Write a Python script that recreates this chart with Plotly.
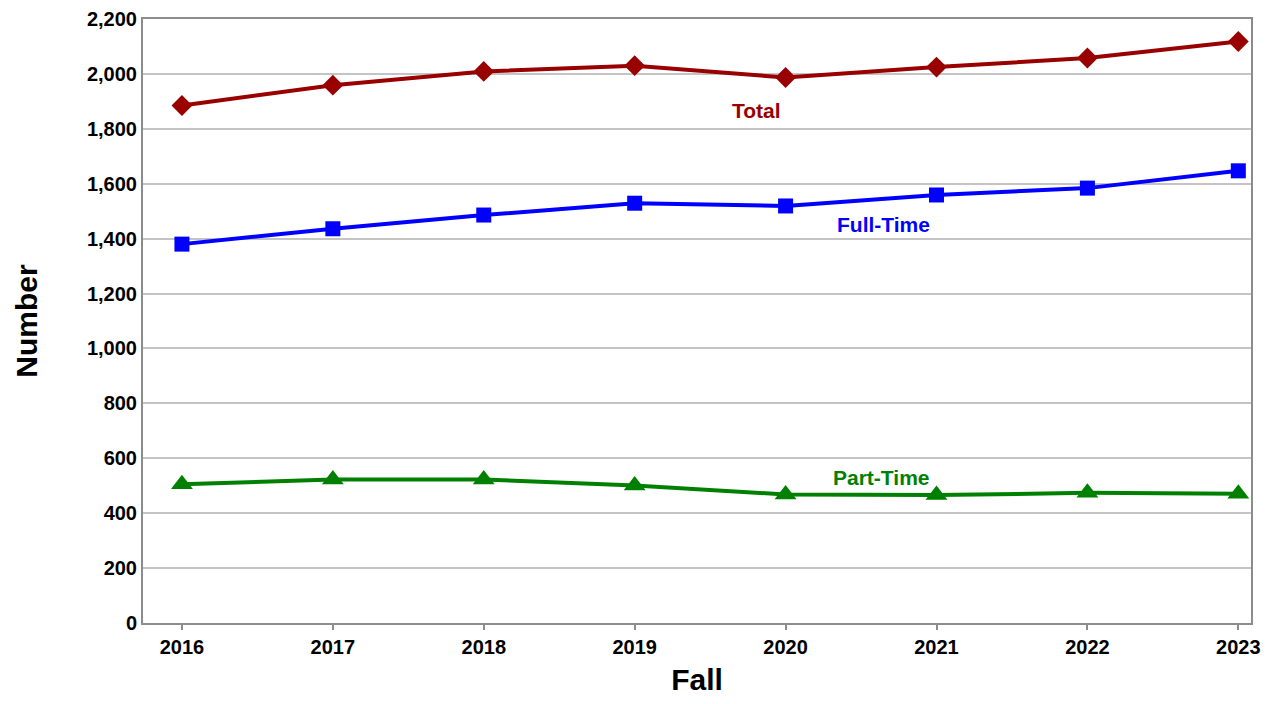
import plotly.graph_objects as go

years = ["2016", "2017", "2018", "2019", "2020", "2021", "2022", "2023"]
total = [1885, 1959, 2009, 2030, 1987, 2025, 2058, 2118]
full_time = [1380, 1436, 1486, 1529, 1519, 1559, 1584, 1647]
part_time = [505, 523, 523, 501, 468, 466, 474, 471]

FONT = "Liberation Sans, Arial, sans-serif"

fig = go.Figure()

series = [
    ("Total", total, "#990000", "diamond", 16),
    ("Full-Time", full_time, "#0000ff", "square", 15),
    ("Part-Time", part_time, "#008000", "triangle-up", 19),
]
for name, vals, color, symbol, size in series:
    fig.add_trace(go.Scatter(
        x=years, y=vals, name=name, mode="lines+markers",
        line=dict(color=color, width=4),
        marker=dict(symbol=symbol, size=size, color=color),
        showlegend=False,
    ))

# series labels next to the lines
labels = [
    ("Total", 3.81, 1865, "#990000"),
    ("Full-Time", 4.65, 1450, "#0000ff"),
    ("Part-Time", 4.63, 531, "#008000"),
]
for text, xi, yv, color in labels:
    fig.add_annotation(x=xi, y=yv, text=text, showarrow=False,
                       font=dict(family=FONT, size=21, color=color, weight="bold"))

# page body has an 8px margin, so the figure is sized to fit inside it
fig.update_layout(
    width=1262, height=688,
    paper_bgcolor="white", plot_bgcolor="white",
    margin=dict(l=135, r=19, t=11, b=73),
    font=dict(family=FONT, color="black"),
)
fig.update_xaxes(
    type="category", range=[-0.258, 7.084], automargin=False,
    showline=True, linecolor="#8c8c8c", linewidth=2, mirror=True,
    showgrid=False, ticks="outside", tickcolor="#8c8c8c", ticklen=5, tickwidth=1.5,
    tickfont=dict(size=20, weight="bold"),
    title=dict(text="Fall", font=dict(size=30, weight="bold"), standoff=16),
)
fig.update_yaxes(
    range=[0, 2200], dtick=200, tickformat=",", automargin=False,
    showline=True, linecolor="#8c8c8c", linewidth=2, mirror=True,
    showgrid=True, gridcolor="#c4c4c4", gridwidth=2, zeroline=False,
    tickfont=dict(size=20, weight="bold"),
    title=dict(text="Number", font=dict(size=30, weight="bold"), standoff=40),
)

fig.write_html("out.html")
